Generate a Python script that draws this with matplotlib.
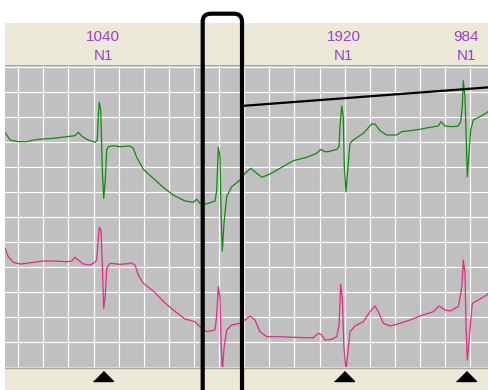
import matplotlib
matplotlib.use("Agg")
import matplotlib.pyplot as plt
import numpy as np
from matplotlib.patches import FancyBboxPatch

# beat annotations (x = sample position along the strip)
beat_x = [103.3, 343.8, 466.3]
beat_rr = ["1040", "1920", "984"]
beat_class = ["N1", "N1", "N1"]

# upper lead (green)
green_x = [5, 10, 18.3, 26.7, 33.3, 43.3, 53.3, 66.7, 75, 78.3, 81.7, 86.7, 95,
           97.3, 98.3, 99.3, 100.7, 102.3, 103.7, 105.3, 106.7, 108.3, 113.3,
           120, 130, 133.3, 136.7, 143.3, 153.3, 164.3, 173.3, 185, 193.3,
           196.7, 200, 205, 215, 216.7, 218.3, 220, 221, 222.3, 224, 226.7,
           231.7, 240, 245, 250.7, 256.7, 261.7, 270, 280, 293.3, 306.7,
           316.7, 320.7, 325, 328.3, 336.7, 339, 340, 341.7, 343.3, 344.3,
           346, 348.3, 350, 353.3, 363.3, 371.7, 375, 380, 386.7, 396.7,
           401.7, 410, 420, 430, 438.3, 441, 445, 451.7, 458.3, 460.7, 462.3,
           463.3, 465, 466, 467.3, 469, 470.7, 473.3, 480, 486.7, 489]
green_y = [132.3, 140, 141.7, 141.7, 140, 139, 138.3, 136.7, 135.7, 132.3,
           136, 139.3, 142.3, 140, 116.7, 102.3, 110, 170, 198.3, 180, 150,
           146.7, 145.7, 146.7, 146, 148.3, 157.3, 169.3, 178.3, 188.3, 195,
           201, 202.3, 199.3, 203.3, 204.3, 201, 190, 147.3, 156.7, 210, 251,
           223.3, 196.7, 186.7, 180, 173.3, 168.3, 173.3, 177.3, 174, 168.3,
           160.7, 157.3, 153.3, 149.3, 151.7, 151.7, 149.3, 146.7, 126.7, 106,
           116.7, 166.7, 191.7, 163.3, 143.3, 140, 133.3, 124, 124, 130.7,
           135, 135, 131.7, 130.7, 129.3, 127.3, 126, 121.7, 126, 126.7, 126,
           121.7, 106.7, 80.7, 96.7, 130, 176.7, 153.3, 130, 120, 116.7,
           112.7, 110.7]

# lower lead (pink)
pink_x = [5, 8.3, 13.3, 20, 26.7, 33.3, 43.3, 53.3, 66.7, 71.7, 75, 78.3,
          83.3, 90, 94.3, 96.7, 98.3, 99.3, 101, 102.3, 103.7, 105.3, 106.7,
          110, 120, 128.3, 130.7, 135, 138.3, 143.3, 153.3, 164.3, 173.3, 185,
          195, 200, 206.7, 215, 216.7, 218.3, 220, 221, 222.3, 224, 226.7,
          231.7, 240, 245, 250, 255, 260, 266.7, 280, 293.3, 306.7, 313.3,
          318.3, 321.7, 325, 331.7, 336.7, 339, 340.7, 342.3, 344, 346, 348.3,
          350, 355, 363.3, 370, 375, 378.3, 383.3, 390, 400, 410, 420, 433.3,
          439, 445, 450, 458.3, 461.7, 463.3, 465, 466, 467.3, 469, 470.7,
          472.3, 478.3, 486.7, 489]
pink_y = [248.3, 256.7, 262.3, 264, 263.3, 262.3, 261, 261, 261.7, 261, 257.3,
          260, 264, 265, 262.7, 260, 238.3, 227.3, 230, 265, 308.3, 295,
          268.3, 263.3, 264.3, 263.7, 262.7, 265, 275, 283.3, 291, 302.3, 310,
          319, 321.7, 326.7, 331.7, 330, 315, 286.7, 298.3, 341.7, 372, 348.3,
          330, 325, 323.3, 320, 316, 320, 331.7, 336.7, 336.7, 337.3, 337.7,
          337.7, 333.3, 335, 340, 339.3, 336.7, 325, 284.3, 298.3, 348.3, 370,
          348.3, 331.7, 326, 321.7, 311.7, 306, 311.7, 323.3, 326, 323.3, 320,
          316, 311.7, 306, 310, 311, 306.7, 288.3, 260, 273.3, 325, 360,
          341.7, 321.7, 303.3, 300, 295, 292.3]

# caliper line and selection window
caliper_x = [245, 489]
caliper_y = [105.7, 87.3]
window_x = (202.7, 242.0)
window_top = 13.7

W, H = 489, 390
BEIGE = '#ECE9D8'
GRID_BG = '#C0C0C0'
EDGE = '#ACA899'
PURPLE = '#9A3FD0'


def px_axes(fig, x0, y0, x1, y1):
    """axes placed by pixel box (top-left origin)"""
    return fig.add_axes([x0 / W, 1 - y1 / H, (x1 - x0) / W, (y1 - y0) / H])


fig = plt.figure(figsize=(W / 100, H / 100), dpi=100, facecolor='white')

# header strip with beat labels
hdr = px_axes(fig, 5, 22.7, 489, 65)
hdr.set_xlim(5, 489)
hdr.set_ylim(65, 22.7)
hdr.axis('off')
hdr.add_patch(plt.Rectangle((5, 22.7), 484, 42.3, color=BEIGE, zorder=0))
for x, rr, cl in zip(beat_x, beat_rr, beat_class):
    hdr.text(x, 41, rr, ha='center', va='baseline', color=PURPLE,
             fontsize=11, family='Liberation Sans')
    hdr.text(x, 60.5, cl, ha='center', va='baseline', color=PURPLE,
             fontsize=11, family='Liberation Sans')

# main strip
ax = px_axes(fig, 5, 65, 489, 367)
ax.set_facecolor(GRID_BG)
ax.set_xlim(5, 489)
ax.set_ylim(367, 65)
ax.set_xticks(18.3 + 25.1 * np.arange(19))
ax.set_yticks(67 + 25 * np.arange(12))
ax.grid(True, color='white', linewidth=0.85)
ax.set_axisbelow(True)
ax.tick_params(length=0, labelbottom=False, labelleft=False)
for s in ax.spines.values():
    s.set_visible(False)
ax.axhspan(65, 66.5, color=EDGE, lw=0, zorder=1)

ax.plot(green_x, green_y, color='#108A10', lw=0.9, zorder=3)
ax.plot(pink_x, pink_y, color='#E22A86', lw=0.9, zorder=3)
ax.plot(caliper_x, caliper_y, color='black', lw=1.6, zorder=4)

# footer strip with beat markers
ftr = px_axes(fig, 5, 367, 489, 390)
ftr.set_xlim(5, 489)
ftr.set_ylim(390, 367)
ftr.axis('off')
ftr.add_patch(plt.Rectangle((5, 367), 484, 23, color=BEIGE, zorder=0))
ftr.axhline(367.5, color=EDGE, lw=1.0)
tri = [(-1, -0.5), (1, -0.5), (0, 0.5)]
ftr.plot(beat_x, [376] * len(beat_x), ls='none', marker=tri, ms=14.4,
         color='black')

# selection window on top of everything
over = fig.add_axes([0, 0, 1, 1], zorder=10)
over.set_xlim(0, W)
over.set_ylim(H, 0)
over.axis('off')
over.patch.set_alpha(0)
box = FancyBboxPatch((window_x[0], window_top), window_x[1] - window_x[0],
                     H + 20, boxstyle='round,pad=0,rounding_size=8',
                     fill=False, ec='black', lw=3.0)
over.add_patch(box)

fig.savefig('out.png', dpi=100, facecolor='white')
